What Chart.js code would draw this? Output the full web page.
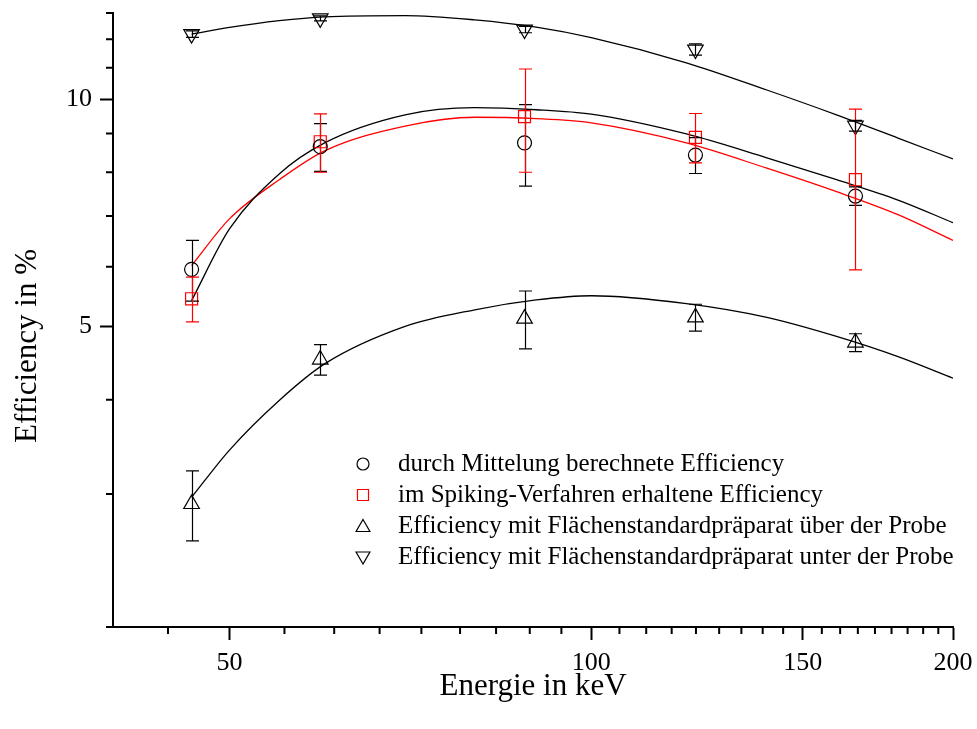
<!DOCTYPE html>
<html>
<head>
<meta charset="utf-8">
<title>Efficiency</title>
<script src="https://cdn.jsdelivr.net/npm/chart.js@4.4.1/dist/chart.umd.min.js"></script>
<style>
    html, body { margin: 0; padding: 0; background: #fff; }
    #wrap { width: 977px; height: 729px; position: relative; }
</style>
</head>
<body>
<div id="wrap"><canvas id="efficiencyChart"></canvas></div>
<script>
// Gamma line energies (keV)
const energies = [46.5, 59.5, 88.0, 122.1, 165.9];

// Measured efficiencies (%) with their errors
const effMittelung = [5.95, 8.65, 8.75, 8.43, 7.44];
const errMittelung = [0.55, 0.63, 1.08, 0.46, 0.21];
const effSpiking = [5.44, 8.78, 9.48, 8.90, 7.82];
const errSpiking = [0.37, 0.78, 1.48, 0.67, 1.88];
const effUeber = [2.91, 4.52, 5.12, 5.14, 4.76];
const errUeber = [0.31, 0.21, 0.45, 0.21, 0.13];
const effUnter = [12.19, 12.79, 12.36, 11.63, 9.22];
const errUnter = [0.12, 0.10, 0.12, 0.20, 0.15];

// Fit curves, sampled at these energies
const fitEnergies = [46.5, 50, 55, 60, 70, 80, 90, 100, 120, 140, 160, 180, 200];
const fitMittelung = [5.41, 6.73, 7.96, 8.75, 9.53, 9.74, 9.68, 9.55, 8.99, 8.36, 7.82, 7.35, 6.86];
const fitSpiking = [6.02, 6.94, 7.82, 8.54, 9.21, 9.46, 9.42, 9.30, 8.75, 8.10, 7.54, 7.03, 6.50];
const fitUeber = [2.97, 3.43, 3.99, 4.46, 5.00, 5.26, 5.42, 5.49, 5.36, 5.14, 4.85, 4.56, 4.27];
const fitUnter = [12.19, 12.44, 12.70, 12.85, 12.90, 12.73, 12.45, 12.06, 11.17, 10.28, 9.53, 8.88, 8.33];

const legendLabels = [
    'durch Mittelung berechnete Efficiency',
    'im Spiking-Verfahren erhaltene Efficiency',
    'Efficiency mit Flächenstandardpräparat über der Probe',
    'Efficiency mit Flächenstandardpräparat unter der Probe'
];

// Axis ticks
const xTickLabels = [50, 100, 150, 200];
const yTickLabels = [5, 10];
const yMinorTicks = [2, 3, 4, 6, 7, 8, 9, 11, 12, 13];
const X_MIN = 40, X_MAX = 200, Y_MIN = 2, Y_MAX = 13;

// 8 minor ticks between the major ones, as Origin does
const xMinorTicks = [];
const xStep = (xTickLabels[1] - xTickLabels[0]) / 9;
for (let v = xTickLabels[0] - xStep; v >= X_MIN; v -= xStep) xMinorTicks.push(v);
xTickLabels.slice(0, -1).forEach(a => {
    for (let k = 1; k < 9; k++) xMinorTicks.push(a + k * xStep);
});

const SERIF = '"Liberation Serif", "DejaVu Serif", serif';
const RED = 'rgb(255, 0, 0)';

const toPoints = (xs, ys) => xs.map((x, i) => ({ x: x, y: ys[i] }));

function markerSet(label, values, errors, color, style, radius, rotation) {
    return {
        type: 'scatter',
        label: label,
        data: toPoints(energies, values),
        errors: errors,
        showLine: false,
        pointStyle: style,
        pointRadius: radius,
        pointRotation: rotation || 0,
        pointBorderWidth: 1.2,
        pointBorderColor: color,
        pointBackgroundColor: 'rgba(0,0,0,0)',
        borderColor: color,
        order: 1
    };
}

function fitSet(values, color) {
    return {
        type: 'line',
        data: toPoints(fitEnergies, values),
        borderColor: color,
        borderWidth: 1.3,
        pointRadius: 0,
        fill: false,
        cubicInterpolationMode: 'monotone',
        order: 2
    };
}

// Vertical error bars with caps
const errorBarPlugin = {
    id: 'errorBars',
    afterDatasetsDraw(chart) {
        const ctx = chart.ctx;
        const yScale = chart.scales.y;
        chart.data.datasets.forEach((ds, i) => {
            if (!ds.errors) return;
            const meta = chart.getDatasetMeta(i);
            ctx.save();
            ctx.strokeStyle = ds.borderColor;
            ctx.lineWidth = 1.2;
            meta.data.forEach((pt, j) => {
                const v = ds.data[j].y;
                const e = ds.errors[j];
                const yTop = yScale.getPixelForValue(v + e);
                const yBot = yScale.getPixelForValue(v - e);
                const x = Math.round(pt.x) + 0.5;
                ctx.beginPath();
                ctx.moveTo(x, yTop);
                ctx.lineTo(x, yBot);
                ctx.moveTo(x - 6.5, yTop);
                ctx.lineTo(x + 6.5, yTop);
                ctx.moveTo(x - 6.5, yBot);
                ctx.lineTo(x + 6.5, yBot);
                ctx.stroke();
            });
            ctx.restore();
        });
    }
};

// Short minor ticks outside the axes, plus axis titles and legend
const decorPlugin = {
    id: 'decor',
    afterDraw(chart) {
        const { ctx, chartArea, scales } = chart;
        ctx.save();
        ctx.strokeStyle = '#000';
        ctx.lineWidth = 2;
        ctx.beginPath();
        xMinorTicks.forEach(v => {
            const px = scales.x.getPixelForValue(v);
            ctx.moveTo(px, chartArea.bottom);
            ctx.lineTo(px, chartArea.bottom + 7);
        });
        yMinorTicks.forEach(v => {
            const py = scales.y.getPixelForValue(v);
            ctx.moveTo(chartArea.left, py);
            ctx.lineTo(chartArea.left - 7, py);
        });
        ctx.stroke();

        // axis titles
        ctx.fillStyle = '#000';
        ctx.font = '31px ' + SERIF;
        ctx.textAlign = 'center';
        ctx.textBaseline = 'middle';
        ctx.fillText('Energie in keV', (chartArea.left + chartArea.right) / 2, 687);
        ctx.save();
        ctx.translate(28, 346);
        ctx.rotate(-Math.PI / 2);
        ctx.fillText('Efficiency in %', 0, 0);
        ctx.restore();

        // legend
        const symbols = [
            { pointStyle: 'circle', radius: 6, rotation: 0, color: '#000' },
            { pointStyle: 'rect', radius: 7.8, rotation: 0, color: RED },
            { pointStyle: 'triangle', radius: 8, rotation: 0, color: '#000' },
            { pointStyle: 'triangle', radius: 8, rotation: 180, color: '#000' }
        ];
        const rows = [464, 495, 526, 557];
        ctx.font = '25px ' + SERIF;
        ctx.textAlign = 'left';
        legendLabels.forEach((text, i) => {
            const s = symbols[i];
            ctx.strokeStyle = s.color;
            ctx.fillStyle = 'rgba(0,0,0,0)';
            ctx.lineWidth = 1.2;
            const sy = s.pointStyle === 'triangle' ? rows[i] + (s.rotation ? -1 : 1.5) : rows[i];
            Chart.helpers.drawPoint(ctx, {
                pointStyle: s.pointStyle,
                radius: s.radius,
                rotation: s.rotation,
                borderWidth: 1.2
            }, 363, sy);
            ctx.fillStyle = '#000';
            ctx.fillText(text, 398, rows[i]);
        });
        ctx.restore();
    }
};

const efficiencyConfig = {
    data: {
        datasets: [
            markerSet(legendLabels[0], effMittelung, errMittelung, '#000', 'circle', 7),
            markerSet(legendLabels[1], effSpiking, errSpiking, RED, 'rect', 8.5),
            markerSet(legendLabels[2], effUeber, errUeber, '#000', 'triangle', 9),
            markerSet(legendLabels[3], effUnter, errUnter, '#000', 'triangle', 9, 180),
            fitSet(fitMittelung, '#000'),
            fitSet(fitSpiking, RED),
            fitSet(fitUeber, '#000'),
            fitSet(fitUnter, '#000')
        ]
    },
    options: {
        responsive: true,
        maintainAspectRatio: false,
        animation: false,
        layout: {
            padding: { left: 0, top: 13, right: 24, bottom: 0 }
        },
        plugins: {
            legend: { display: false },
            tooltip: { enabled: false }
        },
        scales: {
            x: {
                type: 'logarithmic',
                position: 'bottom',
                min: X_MIN,
                max: X_MAX,
                afterBuildTicks: scale => {
                    scale.ticks = xTickLabels.map(v => ({ value: v }));
                },
                afterFit: scale => {
                    scale.height = 102;
                    scale.paddingLeft = 0;
                    scale.paddingRight = 0;
                },
                ticks: {
                    autoSkip: false,
                    maxRotation: 0,
                    padding: 8,
                    color: '#000',
                    font: { family: SERIF, size: 26 },
                    callback: value => String(value)
                },
                grid: {
                    drawOnChartArea: false,
                    drawTicks: true,
                    tickLength: 13,
                    tickWidth: 2,
                    tickColor: '#000'
                },
                border: { display: true, color: '#000', width: 2 }
            },
            y: {
                type: 'logarithmic',
                position: 'left',
                min: Y_MIN,
                max: Y_MAX,
                afterBuildTicks: scale => {
                    scale.ticks = yTickLabels.map(v => ({ value: v }));
                },
                afterFit: scale => {
                    scale.width = 113;
                    scale.paddingTop = 0;
                    scale.paddingBottom = 0;
                },
                ticks: {
                    autoSkip: false,
                    padding: 8,
                    color: '#000',
                    font: { family: SERIF, size: 26 },
                    callback: value => String(value)
                },
                grid: {
                    drawOnChartArea: false,
                    drawTicks: true,
                    tickLength: 13,
                    tickWidth: 2,
                    tickColor: '#000'
                },
                border: { display: true, color: '#000', width: 2 }
            }
        }
    },
    plugins: [errorBarPlugin, decorPlugin]
};

new Chart(document.getElementById('efficiencyChart').getContext('2d'), efficiencyConfig);
</script>
</body>
</html>
